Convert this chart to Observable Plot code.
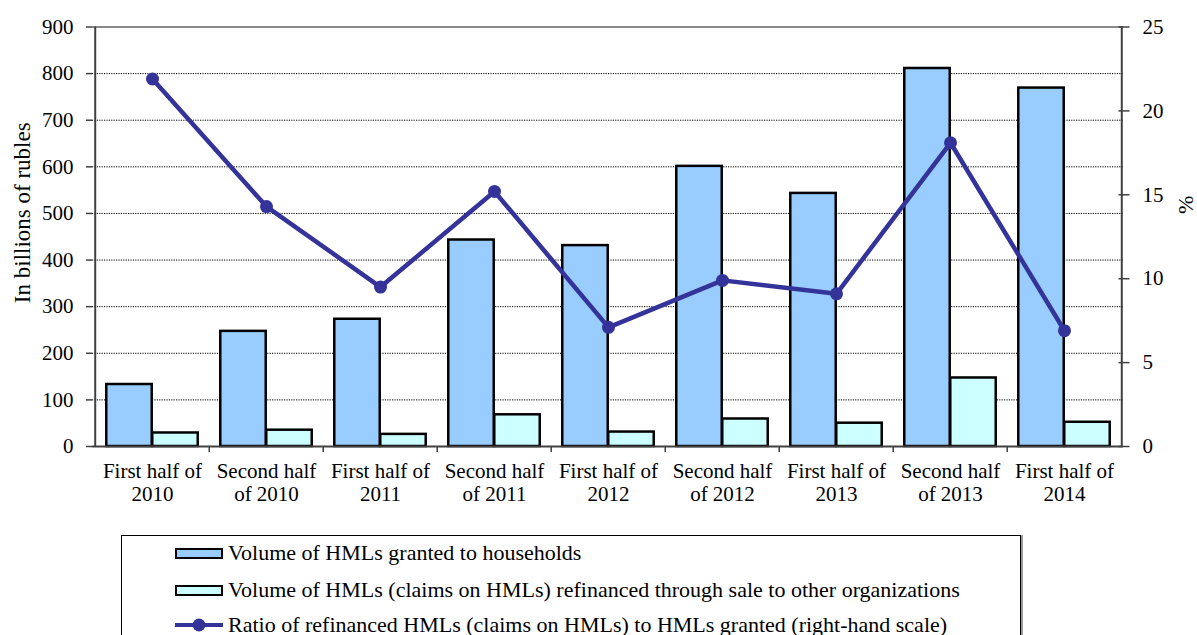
<!DOCTYPE html>
<html>
<head>
<meta charset="utf-8">
<script src="https://cdn.jsdelivr.net/npm/d3@7"></script>
<script src="https://cdn.jsdelivr.net/npm/@observablehq/plot@0.6"></script>
<style>
  html, body { margin: 0; padding: 0; background: #fff; overflow: hidden; }
  body { width: 1197px; height: 635px; position: relative; font-family: "Liberation Serif", "Times New Roman", serif; }
  #chart { position: absolute; left: 0; top: 0; }
  #legend { position: absolute; left: 121px; top: 535px; width: 898px; height: 130px; border: 1px solid #000; box-shadow: 2px 0 0 #999; background: #fff; }
  .row { position: absolute; left: 53px; height: 26px; display: flex; align-items: center; font-size: 22px; color: #000; white-space: nowrap; }
  .sw { width: 44px; height: 7px; border: 2px solid #000; margin-right: 5px; }
  .ln { width: 48px; height: 16px; margin-right: 5px; }
</style>
</head>
<body>
<div id="chart"></div>
<div id="legend">
  <div class="row" style="top:4px"><div class="sw" style="background:#99CCFF"></div><span>Volume of HMLs granted to households</span></div>
  <div class="row" style="top:41px"><div class="sw" style="background:#CCFFFF"></div><span>Volume of HMLs (claims on HMLs) refinanced through sale to other organizations</span></div>
  <div class="row" style="top:76px"><svg class="ln" viewBox="0 0 48 16"><line x1="0" y1="8" x2="48" y2="8" stroke="#333399" stroke-width="4"/><circle cx="24" cy="8" r="6.5" fill="#333399"/></svg><span>Ratio of refinanced HMLs (claims on HMLs) to HMLs granted (right-hand scale)</span></div>
</div>
<script>
const periods = [
  "First half of\n2010", "Second half\nof 2010",
  "First half of\n2011", "Second half\nof 2011",
  "First half of\n2012", "Second half\nof 2012",
  "First half of\n2013", "Second half\nof 2013",
  "First half of\n2014"
];
const granted    = [133, 247, 273, 443, 431, 601, 543, 811, 769];
const refinanced = [29, 35, 26, 68, 31, 59, 50, 147, 52];
const ratioPct   = [21.9, 14.3, 9.5, 15.2, 7.1, 9.9, 9.1, 18.1, 6.9];
const leftTicks  = [0, 100, 200, 300, 400, 500, 600, 700, 800, 900];
const rightTicks = [0, 5, 10, 15, 20, 25];

const W = 1197, H = 520;
const mL = 92, mR = 74, mT = 26.5, mB = 74;
const bw = (W - mL - mR) / periods.length;
const barW = 46;
const k = 900 / 25; // right-scale factor

const rows = periods.map((p, i) => ({p, granted: granted[i], refi: refinanced[i], ratio: ratioPct[i]}));
const font = "Liberation Serif, Times New Roman, serif";
const axisCol = "#404040";

const plot = Plot.plot({
  width: W, height: H,
  marginLeft: mL, marginRight: mR, marginTop: mT, marginBottom: mB,
  style: {fontFamily: font, fontSize: "21px", color: "#000", background: "#fff"},
  x: {type: "band", domain: periods, padding: 0, label: null},
  y: {domain: [0, 900], label: null},
  marks: [
    Plot.ruleY(leftTicks.filter(d => d > 0 && d < 900), {stroke: "#000", strokeWidth: 1, strokeDasharray: "1.2,1.2"}),
    Plot.ruleY([900], {stroke: "#8a8a8a", strokeWidth: 2}),
    Plot.barY(rows, {x: "p", y: "granted", fill: "#99CCFF", stroke: "#000", strokeWidth: 2.5, insetLeft: bw / 2 - barW, insetRight: bw / 2}),
    Plot.barY(rows, {x: "p", y: "refi", fill: "#CCFFFF", stroke: "#000", strokeWidth: 2.5, insetLeft: bw / 2, insetRight: bw / 2 - barW}),
    Plot.ruleY([0], {stroke: axisCol, strokeWidth: 2}),
    Plot.ruleX([periods[0]], {dx: -bw / 2, stroke: axisCol, strokeWidth: 2}),
    Plot.ruleX([periods[periods.length - 1]], {dx: bw / 2, stroke: axisCol, strokeWidth: 2}),
    Plot.ruleX(periods.slice(1), {y1: 0, y2: 0, insetBottom: -6, dx: -bw / 2, stroke: axisCol, strokeWidth: 1.5}),
    Plot.line(rows, {x: "p", y: d => d.ratio * k, stroke: "#333399", strokeWidth: 4.5}),
    Plot.dot(rows, {x: "p", y: d => d.ratio * k, r: 6.5, fill: "#333399"}),
    Plot.axisY({ticks: leftTicks, tickSize: 6, tickPadding: 13, stroke: axisCol, strokeWidth: 1.5, fontSize: 21, label: null}),
    Plot.axisY({anchor: "right", ticks: rightTicks.map(d => d * k), tickSize: 11, dx: -5.5, tickFormat: () => "", stroke: axisCol, strokeWidth: 1.5, label: null}),
    Plot.axisY({anchor: "right", ticks: rightTicks.map(d => d * k), tickSize: 0, tickPadding: 19, tickFormat: d => String(d / k), fontSize: 21, label: null}),
    Plot.axisX({tickSize: 0, tickPadding: 16, lineHeight: 1.06, fontSize: 21, label: null}),
    Plot.text(["In billions of rubles"], {frameAnchor: "left", textAnchor: "middle", lineAnchor: "middle", rotate: -90, dx: -69.5, dy: -24, fontSize: 23, fill: "#000"}),
    Plot.text(["%"], {frameAnchor: "right", textAnchor: "middle", lineAnchor: "middle", rotate: -90, dx: 62, dy: -32, fontSize: 22, fill: "#000"})
  ]
});
document.getElementById("chart").appendChild(plot);
</script>
</body>
</html>
